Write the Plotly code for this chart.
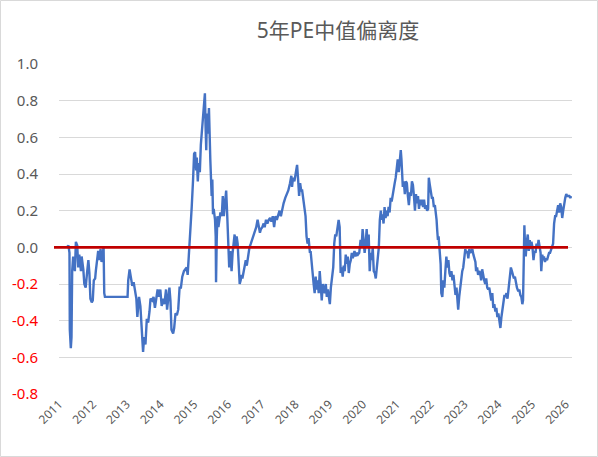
import plotly.graph_objects as go

# ---- data (decimal year, deviation) ----
years = [
    2011.23, 2011.28, 2011.31, 2011.32, 2011.35, 2011.37, 2011.39, 2011.42, 2011.47, 2011.50,
    2011.54, 2011.57, 2011.60, 2011.65, 2011.67, 2011.72, 2011.75, 2011.79, 2011.83, 2011.87,
    2011.90, 2011.93, 2011.97, 2012.00, 2012.03, 2012.07, 2012.09, 2012.13, 2012.16, 2012.19,
    2012.23, 2012.26, 2012.29, 2012.32, 2012.34, 2012.36, 2013.03, 2013.05, 2013.09, 2013.13,
    2013.17, 2013.21, 2013.25, 2013.29, 2013.32, 2013.37, 2013.41, 2013.45, 2013.49, 2013.52,
    2013.56, 2013.60, 2013.64, 2013.68, 2013.71, 2013.76, 2013.80, 2013.84, 2013.88, 2013.92,
    2013.96, 2014.00, 2014.04, 2014.08, 2014.12, 2014.17, 2014.20, 2014.23, 2014.27, 2014.30,
    2014.33, 2014.38, 2014.41, 2014.45, 2014.49, 2014.53, 2014.57, 2014.61, 2014.65, 2014.70,
    2014.73, 2014.78, 2014.81, 2014.85, 2014.89, 2014.93, 2014.97, 2015.00, 2015.03, 2015.06,
    2015.08, 2015.11, 2015.14, 2015.17, 2015.20, 2015.23, 2015.27, 2015.30, 2015.32, 2015.34,
    2015.36, 2015.38, 2015.41, 2015.44, 2015.46, 2015.48, 2015.50, 2015.52, 2015.54, 2015.56,
    2015.58, 2015.60, 2015.62, 2015.64, 2015.65, 2015.67, 2015.69, 2015.72, 2015.74, 2015.78,
    2015.82, 2015.85, 2015.88, 2015.91, 2015.95, 2015.98, 2016.00, 2016.02, 2016.04, 2016.07,
    2016.09, 2016.11, 2016.14, 2016.17, 2016.20, 2016.23, 2016.26, 2016.29, 2016.32, 2016.35,
    2016.38, 2016.40, 2016.43, 2016.47, 2016.50, 2016.53, 2016.56, 2016.60, 2016.64, 2016.68,
    2016.72, 2016.76, 2016.80, 2016.84, 2016.88, 2016.91, 2016.95, 2016.98, 2017.02, 2017.06,
    2017.09, 2017.13, 2017.17, 2017.21, 2017.25, 2017.29, 2017.33, 2017.37, 2017.41, 2017.45,
    2017.49, 2017.53, 2017.57, 2017.61, 2017.65, 2017.70, 2017.74, 2017.79, 2017.84, 2017.88,
    2017.90, 2017.93, 2017.97, 2018.01, 2018.05, 2018.08, 2018.11, 2018.14, 2018.17, 2018.20,
    2018.23, 2018.27, 2018.30, 2018.33, 2018.36, 2018.39, 2018.43, 2018.45, 2018.49, 2018.51,
    2018.54, 2018.57, 2018.60, 2018.63, 2018.66, 2018.69, 2018.72, 2018.75, 2018.78, 2018.81,
    2018.84, 2018.87, 2018.90, 2018.93, 2018.96, 2018.99, 2019.02, 2019.05, 2019.09, 2019.12,
    2019.15, 2019.18, 2019.21, 2019.25, 2019.28, 2019.31, 2019.32, 2019.34, 2019.37, 2019.40,
    2019.43, 2019.46, 2019.49, 2019.52, 2019.55, 2019.58, 2019.61, 2019.64, 2019.67, 2019.70,
    2019.72, 2019.75, 2019.78, 2019.81, 2019.85, 2019.89, 2019.93, 2019.96, 2019.99, 2020.02,
    2020.05, 2020.08, 2020.11, 2020.14, 2020.17, 2020.20, 2020.23, 2020.26, 2020.29, 2020.32,
    2020.35, 2020.38, 2020.41, 2020.44, 2020.47, 2020.50, 2020.53, 2020.55, 2020.58, 2020.61,
    2020.64, 2020.67, 2020.70, 2020.73, 2020.76, 2020.79, 2020.82, 2020.85, 2020.88, 2020.91,
    2020.94, 2020.97, 2021.00, 2021.03, 2021.06, 2021.09, 2021.12, 2021.14, 2021.16, 2021.18,
    2021.21, 2021.24, 2021.27, 2021.30, 2021.33, 2021.36, 2021.39, 2021.42, 2021.45, 2021.48,
    2021.51, 2021.54, 2021.57, 2021.60, 2021.63, 2021.66, 2021.69, 2021.72, 2021.75, 2021.78,
    2021.81, 2021.84, 2021.87, 2021.90, 2021.93, 2021.95, 2021.98, 2022.01, 2022.04, 2022.07,
    2022.10, 2022.13, 2022.15, 2022.18, 2022.20, 2022.22, 2022.24, 2022.27, 2022.30, 2022.32,
    2022.35, 2022.38, 2022.41, 2022.44, 2022.47, 2022.50, 2022.53, 2022.56, 2022.59, 2022.62,
    2022.65, 2022.68, 2022.71, 2022.74, 2022.77, 2022.80, 2022.82, 2022.85, 2022.88, 2022.91,
    2022.94, 2022.97, 2023.00, 2023.03, 2023.06, 2023.09, 2023.12, 2023.15, 2023.18, 2023.21,
    2023.24, 2023.27, 2023.30, 2023.33, 2023.35, 2023.38, 2023.41, 2023.44, 2023.47, 2023.50,
    2023.53, 2023.56, 2023.59, 2023.62, 2023.65, 2023.68, 2023.71, 2023.74, 2023.77, 2023.80,
    2023.83, 2023.86, 2023.89, 2023.92, 2023.95, 2023.98, 2024.01, 2024.04, 2024.07, 2024.10,
    2024.13, 2024.16, 2024.19, 2024.22, 2024.25, 2024.28, 2024.31, 2024.34, 2024.38, 2024.41,
    2024.44, 2024.47, 2024.50, 2024.53, 2024.56, 2024.60, 2024.63, 2024.66, 2024.69, 2024.72,
    2024.74, 2024.76, 2024.78, 2024.80, 2024.82, 2024.85, 2024.88, 2024.91, 2024.94, 2024.96,
    2024.99, 2025.02, 2025.05, 2025.08, 2025.11, 2025.14, 2025.17, 2025.20, 2025.23, 2025.26,
    2025.28, 2025.31, 2025.34, 2025.36, 2025.39, 2025.42, 2025.45, 2025.48, 2025.51, 2025.54,
    2025.57, 2025.60, 2025.63, 2025.66, 2025.69, 2025.72, 2025.75, 2025.78, 2025.81, 2025.84,
    2025.87, 2025.90, 2025.93, 2025.96, 2025.99, 2026.02, 2026.05, 2026.08, 2026.11, 2026.14,
    2026.17,
]

values = [
    0.00, 0.01, -0.03, -0.45, -0.55, -0.49, -0.13, -0.05, -0.13, 0.03,
    0.01, -0.11, -0.04, -0.13, -0.05, -0.12, -0.20, -0.22, -0.14, -0.07,
    -0.14, -0.28, -0.30, -0.29, -0.18, -0.17, -0.13, -0.05, -0.02, -0.07,
    -0.01, -0.08, -0.02, 0.00, -0.25, -0.27, -0.27, -0.18, -0.12, -0.16,
    -0.21, -0.19, -0.23, -0.28, -0.38, -0.27, -0.32, -0.44, -0.57, -0.49,
    -0.53, -0.39, -0.41, -0.35, -0.28, -0.29, -0.27, -0.33, -0.28, -0.23,
    -0.27, -0.23, -0.32, -0.28, -0.31, -0.23, -0.34, -0.27, -0.22, -0.29,
    -0.45, -0.47, -0.44, -0.36, -0.37, -0.34, -0.22, -0.22, -0.16, -0.13,
    -0.12, -0.11, -0.15, -0.04, 0.07, 0.22, 0.37, 0.51, 0.52, 0.42,
    0.49, 0.36, 0.46, 0.41, 0.56, 0.62, 0.71, 0.80, 0.84, 0.66,
    0.53, 0.73, 0.62, 0.76, 0.55, 0.48, 0.38, 0.28, 0.37, 0.18,
    0.21, 0.17, 0.15, 0.06, -0.19, 0.04, 0.17, 0.11, 0.15, 0.19,
    0.17, 0.28, 0.17, 0.22, 0.31, 0.18, 0.07, 0.00, -0.11, -0.02,
    -0.08, -0.13, -0.03, 0.04, 0.07, 0.00, 0.06, 0.02, -0.11, -0.20,
    -0.18, -0.15, -0.17, -0.13, -0.09, -0.07, -0.10, -0.05, 0.00, 0.02,
    0.04, 0.06, 0.08, 0.11, 0.15, 0.11, 0.08, 0.10, 0.11, 0.13,
    0.11, 0.15, 0.13, 0.15, 0.16, 0.14, 0.17, 0.11, 0.17, 0.15,
    0.18, 0.20, 0.17, 0.21, 0.24, 0.27, 0.29, 0.31, 0.35, 0.39,
    0.33, 0.38, 0.36, 0.41, 0.45, 0.37, 0.28, 0.35, 0.31, 0.31,
    0.26, 0.22, 0.17, 0.06, 0.02, 0.05, -0.03, -0.02, -0.13, -0.14,
    -0.20, -0.25, -0.16, -0.23, -0.18, -0.25, -0.13, -0.22, -0.29, -0.20,
    -0.22, -0.25, -0.20, -0.27, -0.23, -0.27, -0.31, -0.22, -0.16, -0.11,
    0.02, 0.07, 0.06, 0.13, 0.15, 0.11, -0.02, -0.14, -0.11, -0.16,
    -0.10, -0.13, -0.04, -0.09, -0.05, -0.14, -0.09, -0.07, -0.03, -0.06,
    -0.04, -0.02, -0.05, -0.03, -0.04, -0.03, 0.04, 0.00, 0.10, 0.04,
    -0.03, 0.02, 0.10, 0.00, 0.07, -0.13, -0.03, -0.07, 0.00, -0.13,
    -0.14, -0.17, -0.12, -0.07, 0.00, 0.15, 0.20, 0.15, 0.18, 0.13,
    0.22, 0.16, 0.20, 0.17, 0.22, 0.19, 0.27, 0.25, 0.29, 0.32,
    0.35, 0.38, 0.44, 0.48, 0.41, 0.48, 0.53, 0.48, 0.40, 0.33,
    0.36, 0.29, 0.36, 0.35, 0.28, 0.23, 0.30, 0.28, 0.36, 0.34,
    0.28, 0.20, 0.29, 0.24, 0.28, 0.21, 0.26, 0.23, 0.26, 0.22,
    0.26, 0.21, 0.23, 0.20, 0.21, 0.38, 0.34, 0.31, 0.27, 0.27,
    0.22, 0.23, 0.20, 0.15, 0.09, 0.04, 0.06, 0.00, -0.09, -0.25,
    -0.27, -0.18, -0.22, -0.13, -0.05, -0.11, -0.07, -0.14, -0.16, -0.13,
    -0.18, -0.15, -0.22, -0.26, -0.22, -0.28, -0.34, -0.27, -0.22, -0.18,
    -0.13, -0.11, -0.05, -0.01, -0.03, -0.02, -0.06, -0.01, -0.03, -0.02,
    -0.01, -0.04, -0.07, -0.08, -0.13, -0.11, -0.15, -0.13, -0.14, -0.18,
    -0.12, -0.16, -0.18, -0.20, -0.17, -0.22, -0.23, -0.22, -0.25, -0.29,
    -0.25, -0.33, -0.31, -0.35, -0.33, -0.38, -0.36, -0.41, -0.44, -0.38,
    -0.34, -0.28, -0.26, -0.27, -0.25, -0.28, -0.23, -0.16, -0.11, -0.13,
    -0.15, -0.17, -0.16, -0.20, -0.22, -0.24, -0.23, -0.26, -0.27, -0.31,
    -0.29, -0.09, 0.12, 0.00, -0.05, 0.03, 0.07, -0.02, 0.04, -0.01,
    0.03, 0.00, -0.07, -0.02, -0.03, 0.02, 0.00, 0.04, 0.00, -0.03,
    -0.13, -0.04, -0.07, -0.05, -0.08, -0.06, -0.07, -0.05, -0.03, -0.03,
    -0.01, 0.01, 0.02, 0.13, 0.17, 0.17, 0.20, 0.23, 0.19, 0.24,
    0.22, 0.16, 0.20, 0.24, 0.27, 0.29, 0.28, 0.28, 0.28, 0.27,
    0.28,
]

tick_years = list(range(2011, 2027))
tick_year_labels = [str(y) for y in tick_years]
y_ticks = [-0.8, -0.6, -0.4, -0.2, 0.0, 0.2, 0.4, 0.6, 0.8, 1.0]
y_tick_labels = [f"{v:.1f}" for v in y_ticks]
title_text = "5年PE中值偏离度"

# ---- styling ----
W, H = 598, 457
ML, MR, MT, MB = 59, 26, 64, 63
PW, PH = W - ML - MR, H - MT - MB
GRAY_TXT = "#595959"
GRID = "#D9D9D9"
FONT = "Noto Sans, Noto Sans CJK SC, sans-serif"

y_tick_text = [
    f"<span style='color:#FF0000'>{t}</span>" if v < 0 else t
    for v, t in zip(y_ticks, y_tick_labels)
]

x_range = [2011.0, 2026.19]
y_range = [-0.8, 1.0]

fig = go.Figure()
fig.add_trace(go.Scatter(
    x=years, y=values, mode="lines",
    line=dict(color="#4472C4", width=2.4),
    hoverinfo="skip", showlegend=False,
))

fig.update_layout(
    width=W, height=H,
    margin=dict(l=ML, r=MR, t=MT, b=MB, pad=0),
    paper_bgcolor="white", plot_bgcolor="white",
    font=dict(family=FONT, color=GRAY_TXT),
    title=dict(
        text=title_text, x=338 / W, xref="container", xanchor="center",
        y=1 - 31 / H, yref="container", yanchor="middle",
        font=dict(size=21, color=GRAY_TXT, family=FONT),
    ),
    xaxis=dict(
        range=x_range, tickmode="array", tickvals=tick_years, ticktext=tick_year_labels,
        tickangle=-45, showgrid=False, zeroline=False, showline=False,
        ticks="", tickfont=dict(size=12, color=GRAY_TXT),
    ),
    xaxis2=dict(
        range=x_range, overlaying="x", anchor="free",
        position=(0 - y_range[0]) / (y_range[1] - y_range[0]),
        tickmode="array", tickvals=tick_years, showticklabels=False,
        ticks="outside", ticklen=4, tickcolor=GRID, tickwidth=1,
        showgrid=False, zeroline=False, showline=False,
    ),
    yaxis=dict(
        range=y_range, tickmode="array", tickvals=y_ticks, ticktext=y_tick_text,
        showgrid=True, gridcolor=GRID, gridwidth=1, zeroline=False,
        showline=False, ticks="", ticklabelstandoff=20,
        tickfont=dict(size=15, color=GRAY_TXT),
    ),
    shapes=[
        dict(type="line", xref="paper", yref="y",
             x0=(54 - ML) / PW, x1=(568 - ML) / PW, y0=0, y1=0,
             line=dict(color="#C00000", width=2.6), layer="above"),
        dict(type="rect", xref="paper", yref="paper",
             x0=(0.5 - ML) / PW, x1=(W - 0.5 - ML) / PW,
             y0=-(MB - 0.5) / PH, y1=1 + (MT - 0.5) / PH,
             line=dict(color=GRID, width=1), layer="below"),
    ],
)

fig.write_html("out.html")
